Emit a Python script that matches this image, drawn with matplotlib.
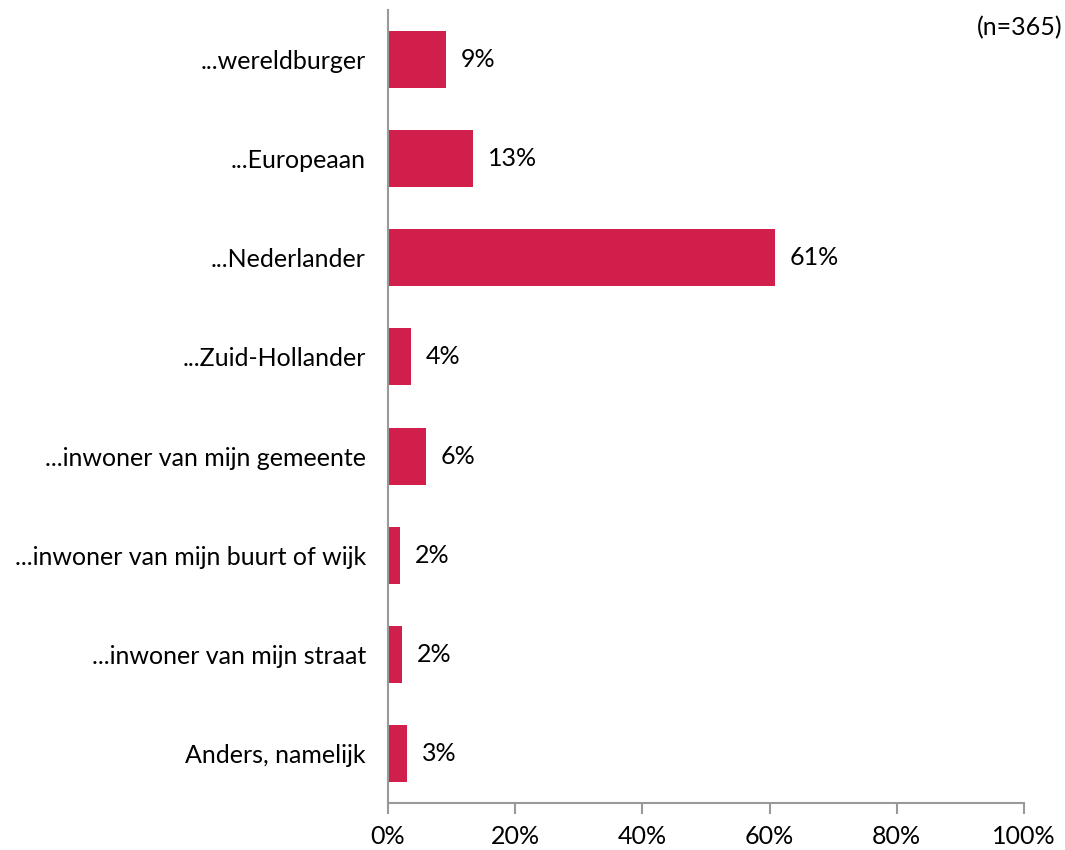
import matplotlib
matplotlib.use("Agg")
import matplotlib.pyplot as plt
from matplotlib.ticker import FuncFormatter

categories = ["...wereldburger", "...Europeaan", "...Nederlander", "...Zuid-Hollander",
              "...inwoner van mijn gemeente", "...inwoner van mijn buurt of wijk",
              "...inwoner van mijn straat", "Anders, namelijk"]
values = [9.1, 13.4, 60.8, 3.6, 6.0, 1.9, 2.2, 3.0]
labels = ["9%", "13%", "61%", "4%", "6%", "2%", "2%", "3%"]
xticks = [0, 20, 40, 60, 80, 100]
note = "(n=365)"

plt.rcParams['font.family'] = ['Lato', 'DejaVu Sans']
fig = plt.figure(figsize=(10.65, 8.5), dpi=100)
ax = fig.add_axes([388/1065, 47/850, (1024-388)/1065, (803-10)/850])

y = list(range(len(categories)))
bar_color = "#D01F4B"
ax.barh(y, values, height=0.575, color=bar_color)
for yi, v, lab in zip(y, values, labels):
    ax.text(v + 2.3, yi, lab, va='center', ha='left', fontsize=18, color='black')

ax.set_ylim(len(categories) - 0.5, -0.5)
ax.set_xlim(0, 100)
ax.set_yticks(y)
ax.set_yticklabels(categories, fontsize=18)
ax.tick_params(axis='y', length=0, pad=16)
ax.set_xticks(xticks)
ax.xaxis.set_major_formatter(FuncFormatter(lambda v, p: f"{int(v)}%"))
ax.tick_params(axis='x', direction='out', length=8, width=1.5, color='#999999', labelsize=18, pad=8)
for s in ['top', 'right']:
    ax.spines[s].set_visible(False)
for s in ['left', 'bottom']:
    ax.spines[s].set_color('#999999')
    ax.spines[s].set_linewidth(1.5)

fig.text(1062/1065, 1 - 28/850, note, ha='right', va='center', fontsize=18)
fig.savefig("out.png", dpi=100)
